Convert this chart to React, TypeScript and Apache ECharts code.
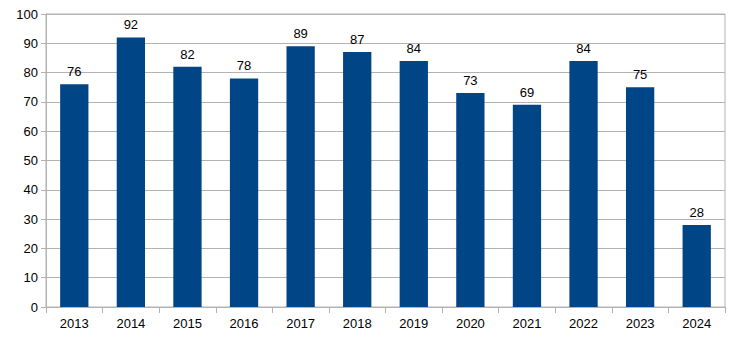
import React, { useEffect, useRef } from "react";
import * as echarts from "echarts";

const years = ["2013", "2014", "2015", "2016", "2017", "2018", "2019", "2020", "2021", "2022", "2023", "2024"];
const values = [76, 92, 82, 78, 89, 87, 84, 73, 69, 84, 75, 28];
const yTicks = { min: 0, max: 100, interval: 10 };

export default function App() {
  const ref = useRef<HTMLDivElement>(null);
  useEffect(() => {
    const chart = echarts.init(ref.current!, null, { renderer: "svg" });
    chart.setOption({
      animation: false,
      grid: {
        left: 46, right: 15, top: 14, bottom: 32,
        show: true, borderColor: "#b3b3b3", borderWidth: 1,
      },
      xAxis: {
        type: "category",
        data: years,
        axisLine: { lineStyle: { color: "#b3b3b3" } },
        axisTick: { show: true, length: 6, lineStyle: { color: "#b3b3b3" } },
        axisLabel: { color: "#000", fontFamily: "Liberation Sans", fontSize: 13, margin: 10 },
      },
      yAxis: {
        type: "value",
        min: yTicks.min, max: yTicks.max, interval: yTicks.interval,
        axisLine: { show: true, lineStyle: { color: "#b3b3b3" } },
        axisTick: { show: true, length: 5, lineStyle: { color: "#b3b3b3" } },
        splitLine: { lineStyle: { color: "#b3b3b3" } },
        axisLabel: { color: "#000", fontFamily: "Liberation Sans", fontSize: 13, margin: 8 },
      },
      series: [{
        type: "bar",
        data: values,
        barWidth: "50%",
        itemStyle: { color: "#004586" },
        label: { show: true, position: "top", color: "#000", fontFamily: "Liberation Sans", fontSize: 13, distance: 6 },
      }],
    });
    return () => chart.dispose();
  }, []);
  return <div ref={ref} style={{ width: 740, height: 339, margin: -8 }} />;
}
